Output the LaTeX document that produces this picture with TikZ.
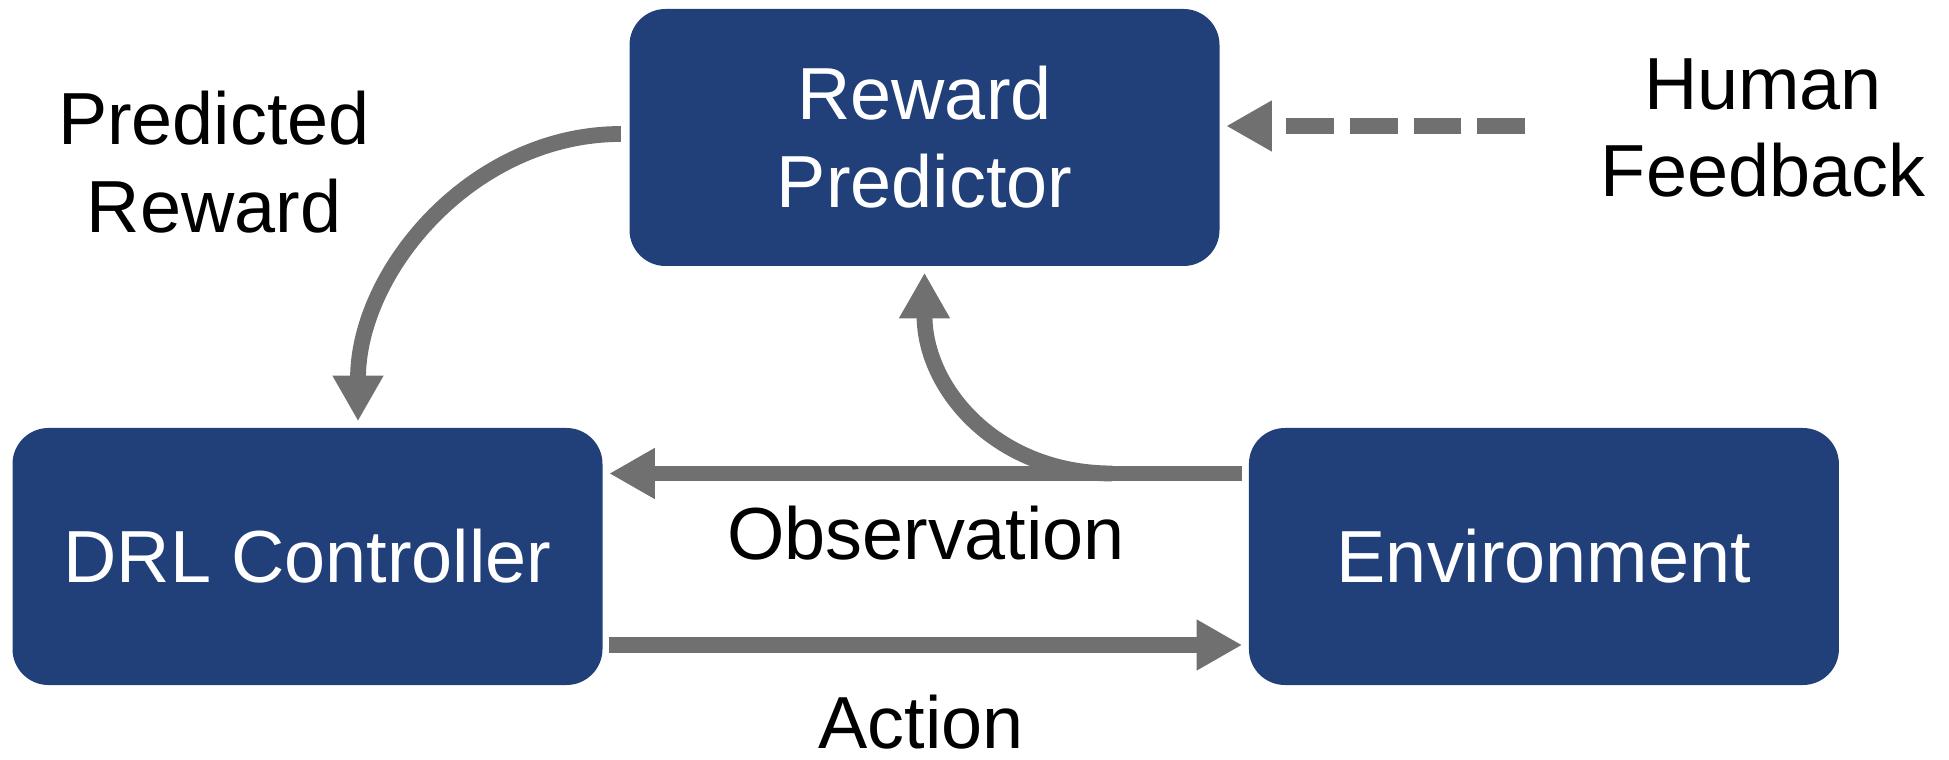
\documentclass[tikz,border=0pt]{standalone}
\usepackage{fontspec}
\setmainfont{Liberation Sans}
\usetikzlibrary{positioning, arrows.meta}
\definecolor{boxblue}{RGB}{33,64,122}
\definecolor{arrowgray}{RGB}{112,112,112}
\tikzset{
    base/.style={align=center, font=\fontsize{21}{25}\selectfont},
    box/.style={base, rectangle, fill=boxblue, text=white, minimum width=5.9cm, minimum height=2.57cm, inner sep=0pt, rounded corners=0.36cm},
    plaintext/.style={base, text=black},
    arrow/.style={-{Triangle[length=13pt,width=13.6pt]}, line width=4.5pt, draw=arrowgray, shorten >=0.06cm, shorten <=0.06cm},
    dashedarrow/.style={arrow, dash pattern=on 13.6pt off 4.5pt}
}

\begin{document}
\begin{tikzpicture}
    \useasboundingbox (0,0) rectangle (19.49,7.59);
    % Blocks
    \node [box] (drl) at (3.075, 2.025) {DRL Controller};
    \node [box, right=6.45cm of drl] (env) {Environment};
    \node [box] (rp) at (9.245, 6.215) {Reward\\Predictor};

    % Labels
    \node [plaintext] (pred) at (2.14, 5.97) {Predicted\\Reward};
    \node [plaintext] (hf) at (17.63, 6.31) {Human\\Feedback};
    \node [plaintext] (obs) at (9.26, 2.255) {Observation};
    \node [plaintext] (act) at (9.21, 0.37) {Action};

    \coordinate (obsstart) at ([yshift=0.83cm]env.west);
    \coordinate (hfstart) at (15.25, 6.33);

    % Connections
    \draw [arrow] (obsstart) -- (obsstart -| drl.east);
    \draw [arrow] ([xshift=-1.3cm]obsstart) to[out=180, in=-90, looseness=1.1] (rp.south);
    \draw [arrow] ([yshift=-0.885cm]drl.east) -- ([yshift=-0.885cm]drl.east -| env.west);
    \draw [arrow, shorten <=0.08cm] ([yshift=0.035cm]rp.west) to[out=180, in=90] ([xshift=0.505cm]drl.north);
    \draw [dashedarrow, shorten <=0pt] (hfstart) -- (hfstart -| rp.east);
\end{tikzpicture}
\end{document}
